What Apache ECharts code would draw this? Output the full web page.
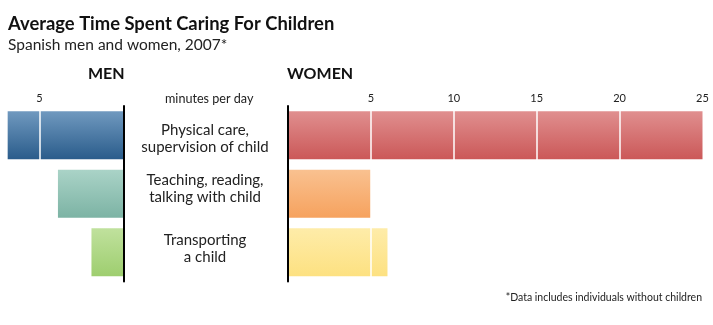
<!DOCTYPE html>
<html>
<head>
<meta charset="utf-8">
<script src="https://cdn.jsdelivr.net/npm/echarts@6/dist/echarts.min.js"></script>
<style>
  html, body { margin: 0; padding: 0; background: #fff; }
  #chart { width: 713px; height: 325px; }
</style>
</head>
<body>
<div id="chart"></div>
<script>
// Activities, top to bottom
const categories = [
  'Physical care,\nsupervision of child',
  'Teaching, reading,\ntalking with child',
  'Transporting\na child'
];
// Minutes per day
const menMinutes = [6.9, 3.9, 1.9];
const womenMinutes = [25, 5, 6];
// Scale ticks
const menTicks = [5];
const womenTicks = [5, 10, 15, 20, 25];

const FONT = 'Lato';

function grad(top, bottom) {
  return new echarts.graphic.LinearGradient(0, 0, 0, 1, [
    { offset: 0, color: top },
    { offset: 1, color: bottom }
  ]);
}
const menColors = [
  ['#7099bf', '#2a5c8b'],
  ['#aad3c7', '#7cb3a4'],
  ['#c0e19d', '#9ece6f']
];
const womenColors = [
  ['#e08f8f', '#cb5858'],
  ['#f9c190', '#f6a25e'],
  ['#feeca9', '#fde181']
];

// Per-row label styles: nudge the two-line labels up or down a little
const labelRich = {
  r0: { fontSize: 15, lineHeight: 17, color: '#222', fontFamily: FONT, align: 'center', padding: [6, 0, 0, 0] },
  r1: { fontSize: 15, lineHeight: 17, color: '#222', fontFamily: FONT, align: 'center', padding: [0, 0, 10, 0] },
  r2: { fontSize: 15, lineHeight: 17, color: '#222', fontFamily: FONT, align: 'center', padding: [0, 0, 7, 0] }
};

const chart = echarts.init(document.getElementById('chart'), null, { renderer: 'canvas' });

const titleText = (size, weight) => ({
  fontFamily: FONT, fontSize: size, fontWeight: weight, color: weight === 'bold' ? '#111' : '#222'
});

const option = {
  animation: false,
  backgroundColor: '#fff',
  textStyle: { fontFamily: FONT },
  title: [
    { text: 'Average Time Spent Caring For Children', left: 8, top: 15, padding: 0,
      textStyle: titleText(18.4, 'bold') },
    { text: 'Spanish men and women, 2007*', left: 8, top: 37, padding: 0,
      textStyle: titleText(15.5, 'normal') },
    { text: 'MEN', left: 88, top: 66, padding: 0,
      textStyle: titleText(16, 'bold') },
    { text: 'WOMEN', left: 287, top: 66, padding: 0,
      textStyle: titleText(16, 'bold') },
    { text: 'minutes per day', left: 165, top: 92, padding: 0,
      textStyle: titleText(12.6, 'normal') },
    { text: '*Data includes individuals without children', right: 11, top: 292, padding: 0,
      textStyle: titleText(10.5, 'normal') }
  ],
  grid: [
    { left: 6, width: 117.3, top: 106, height: 175.5 },
    { left: 288, width: 414.5, top: 106, height: 175.5 }
  ],
  xAxis: [
    {
      gridIndex: 0, type: 'value', inverse: true, position: 'top',
      min: 0, max: 7, interval: 5, z: 4,
      axisLine: { show: false }, axisTick: { show: false },
      axisLabel: {
        margin: 2, fontSize: 11, color: '#222', fontFamily: FONT,
        formatter: v => (menTicks.indexOf(v) >= 0 ? String(v) : '')
      },
      splitLine: { show: true, showMinLine: false, showMaxLine: false,
        lineStyle: { color: '#ffffff', width: 1.5 } }
    },
    {
      gridIndex: 1, type: 'value', position: 'top',
      min: 0, max: 25, interval: 5, z: 4,
      axisLine: { show: false }, axisTick: { show: false },
      axisLabel: {
        margin: 2, fontSize: 11, color: '#222', fontFamily: FONT,
        formatter: v => (womenTicks.indexOf(v) >= 0 ? String(v) : '')
      },
      splitLine: { show: true, showMinLine: false, showMaxLine: false,
        lineStyle: { color: '#ffffff', width: 1.5 } }
    }
  ],
  yAxis: [
    {
      gridIndex: 0, type: 'category', inverse: true, position: 'right',
      data: categories, z: 5,
      axisLine: { show: true, lineStyle: { color: '#000', width: 2 } },
      axisTick: { show: false }, axisLabel: { show: false }, splitLine: { show: false }
    },
    {
      gridIndex: 1, type: 'category', inverse: true, position: 'left',
      data: categories, z: 5,
      axisLine: { show: true, lineStyle: { color: '#000', width: 2 } },
      axisTick: { show: false }, splitLine: { show: false },
      axisLabel: {
        margin: 83, align: 'center', fontSize: 15, lineHeight: 17,
        color: '#222', fontFamily: FONT,
        formatter: (v, i) => v.split('\n').map(line => '{r' + i + '|' + line + '}').join('\n'),
        rich: labelRich
      }
    }
  ],
  series: [
    {
      name: 'Men', type: 'bar', xAxisIndex: 0, yAxisIndex: 0, barWidth: 48,
      data: menMinutes.map((v, i) => ({
        value: v,
        itemStyle: { color: grad(menColors[i][0], menColors[i][1]) }
      }))
    },
    {
      name: 'Women', type: 'bar', xAxisIndex: 1, yAxisIndex: 1, barWidth: 48,
      data: womenMinutes.map((v, i) => ({
        value: v,
        itemStyle: { color: grad(womenColors[i][0], womenColors[i][1]) }
      }))
    }
  ]
};

chart.setOption(option);
</script>
</body>
</html>
